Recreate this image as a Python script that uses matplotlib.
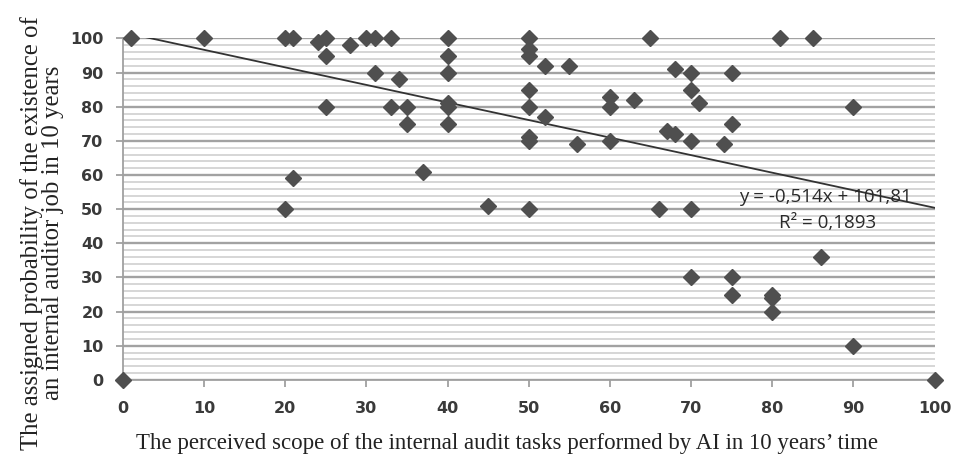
import numpy as np
import matplotlib
matplotlib.use("Agg")
import matplotlib.pyplot as plt
from matplotlib.font_manager import FontProperties

# perceived AI scope (x) vs. assigned probability (y)
scope = [0, 1, 10, 20, 21, 24, 25, 25, 25, 28, 30, 31, 31, 33, 33, 34, 35, 35, 37,
         40, 40, 40, 40, 40, 40, 21, 20, 45, 50, 50, 50, 50, 50, 50, 50, 50,
         52, 52, 55, 56, 60, 60, 60, 63, 65, 66, 67, 68, 68, 70, 70, 70, 70, 70,
         71, 74, 75, 75, 75, 75, 80, 80, 80, 81, 85, 86, 90, 90, 100]
prob = [0, 100, 100, 100, 100, 99, 100, 95, 80, 98, 100, 100, 90, 100, 80, 88, 80, 75, 61,
        100, 95, 90, 81, 80, 75, 59, 50, 51, 100, 97, 95, 85, 80, 71, 70, 50,
        92, 77, 92, 69, 83, 80, 70, 82, 100, 50, 73, 72, 91, 90, 85, 70, 50, 30,
        81, 69, 90, 75, 30, 25, 25, 24, 20, 100, 100, 36, 80, 10, 0]

x_ticks = [0, 10, 20, 30, 40, 50, 60, 70, 80, 90, 100]
y_ticks = [0, 10, 20, 30, 40, 50, 60, 70, 80, 90, 100]

# Excel linear trend line
slope = -0.514
intercept = 101.81
eq_text = "y = -0,514x + 101,81"
r2_text = "R² = 0,1893"

fig = plt.figure(figsize=(9.57, 4.69), dpi=100)
ax = fig.add_axes([0.1285, 0.19, 0.848, 0.728])

ax.set_xlim(0, 100)
ax.set_ylim(0, 100)

tick_font = FontProperties(family='DejaVu Sans', weight='bold', size=11.5)
ax.set_xticks(x_ticks)
ax.set_xticklabels([str(t) for t in x_ticks], fontproperties=tick_font)
ax.set_yticks(y_ticks)
ax.set_yticklabels([str(t) for t in y_ticks], fontproperties=tick_font)
# minor horizontal lines every 2
ax.set_yticks(np.arange(0, 101, 2), minor=True)

ax.yaxis.grid(True, which='major', color='#a2a2a2', lw=1.7)
ax.yaxis.grid(True, which='minor', color='#cfcfcf', lw=1.2)
ax.xaxis.grid(False)
ax.set_axisbelow(True)

for side in ['top', 'right']:
    ax.spines[side].set_visible(False)
for side in ['left', 'bottom']:
    ax.spines[side].set_color('#a0a0a0')
    ax.spines[side].set_linewidth(1.3)

ax.tick_params(axis='y', which='major', length=5, width=1.3, color='#a0a0a0',
               pad=9, labelcolor='#3a3a3a')
ax.tick_params(axis='y', which='minor', length=0)
ax.tick_params(axis='x', which='major', length=5, width=1.3, color='#a0a0a0',
               pad=10, labelcolor='#3a3a3a')

# trend line over the full x range, clipped by the axes
tx = np.array([0, 100])
ax.plot(tx, slope * tx + intercept, color='#333333', lw=1.3, zorder=2)

ax.plot(scope, prob, linestyle='', marker='D', markersize=8.2,
        color='#4f4f4f', clip_on=False, zorder=3)

ax.text(86.6, 53.6, eq_text, ha='center', va='center', fontsize=13.5,
        family='Open Sans', color='#2a2a2a', zorder=4)
ax.text(86.8, 46.0, r2_text, ha='center', va='center', fontsize=13.5,
        family='Open Sans', color='#2a2a2a', zorder=4)

fig.text(0.53, 0.055, "The perceived scope of the internal audit tasks performed by AI in 10 years\u2019 time",
         ha='center', va='center', family='Liberation Serif', fontsize=16.5, color='#222222')
fig.text(0.044, 0.503, "The assigned probability of the existence of\nan internal auditor job in 10 years",
         ha='center', va='center', rotation=90, family='Liberation Serif', fontsize=17.8,
         color='#222222', linespacing=0.95)

fig.savefig('out.png', dpi=100)
